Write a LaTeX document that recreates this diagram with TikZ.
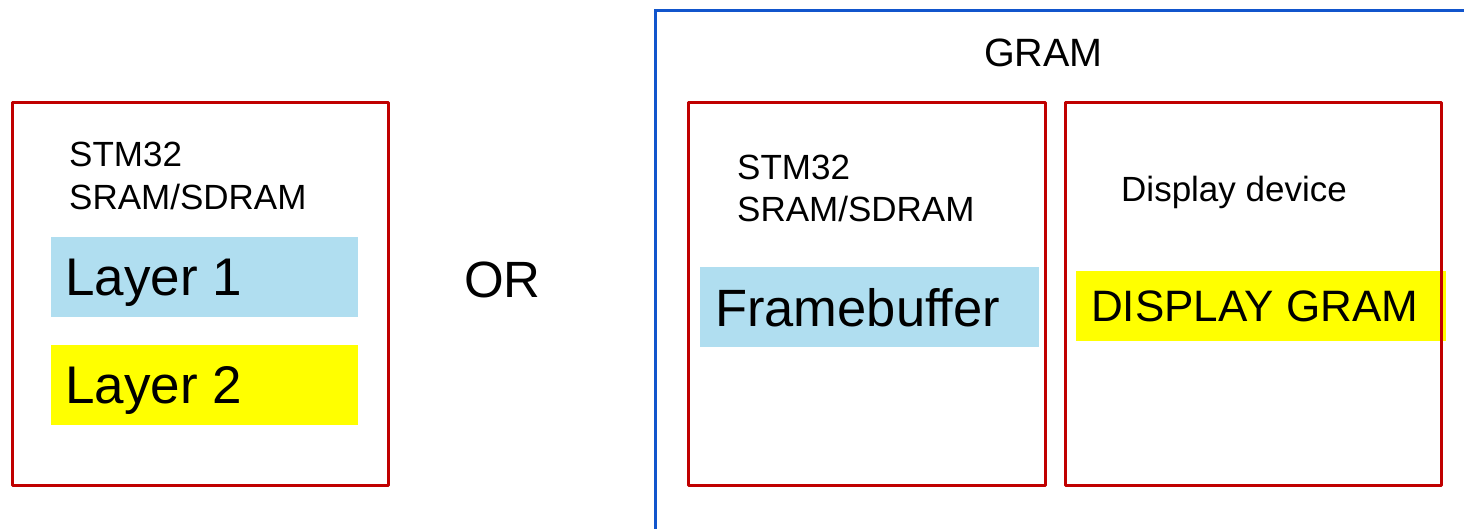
\documentclass[tikz,border=0pt]{standalone}
\usepackage{fontspec}
\setmainfont{Liberation Sans}
\definecolor{boxred}{RGB}{192,0,0}
\definecolor{gramblue}{RGB}{17,85,204}
\definecolor{layerblue}{RGB}{176,222,240}
\definecolor{layeryellow}{RGB}{255,255,0}
\begin{document}
\begin{tikzpicture}[x=1pt,y=-1pt,
  frame/.style={draw=boxred,line width=3pt,inner sep=0pt,line join=round},
  fillbox/.style={inner sep=0pt,draw=none},
  lbl/.style={anchor=base west,inner sep=0pt,text=black},
  fs/.style={font=\fontsize{#1}{#1}\selectfont}]
\useasboundingbox (0,0) rectangle (1464,529);
\clip (0,0) rectangle (1464,529);
\fill[white] (0,0) rectangle (1464,529);
% GRAM outer frame
\node[draw=gramblue,line width=3pt,inner sep=0pt,minimum width=830pt,minimum height=540pt,anchor=north west] (gram) at (654,9) {};
\node[lbl,fs=39.5] (gramlbl) at (984,67) {GRAM};
% fills
\node[fillbox,fill=layerblue,minimum width=307pt,minimum height=80pt,anchor=north west] (l1) at (51,237) {};
\node[fillbox,fill=layeryellow,minimum width=307pt,minimum height=80pt,anchor=north west] (l2) at (51,345) {};
\node[fillbox,fill=layerblue,minimum width=339pt,minimum height=80pt,anchor=north west] (fb) at (700,267) {};
\node[fillbox,fill=layeryellow,minimum width=370pt,minimum height=70pt,anchor=north west] (dg) at (1076,271) {};
% red frames
\node[frame,minimum width=376pt,minimum height=383pt,anchor=north west] (left) at (11,101) {};
\node[frame,minimum width=357pt,minimum height=383pt,anchor=north west] (mid) at (687,101) {};
\node[frame,minimum width=376pt,minimum height=383pt,anchor=north west] (right) at (1064,101) {};
% texts
\node[lbl,fs=35] (s1a) at (69,167) {STM32};
\node[lbl,fs=35] (s1b) at (69,210) {SRAM/SDRAM};
\node[lbl,fs=53] (l1t) at (65,296) {Layer 1};
\node[lbl,fs=53] (l2t) at (65,403) {Layer 2};
\node[lbl,fs=51] (ort) at (464,298) {OR};
\node[lbl,fs=35] (s2a) at (737,180) {STM32};
\node[lbl,fs=35] (s2b) at (737,222) {SRAM/SDRAM};
\node[lbl,fs=52.5] (fbt) at (715,326) {Framebuffer};
\node[lbl,fs=35] (ddt) at (1121,202) {Display device};
\node[lbl,fs=44] (dgt) at (1091,321) {DISPLAY GRAM};
\end{tikzpicture}
\end{document}
